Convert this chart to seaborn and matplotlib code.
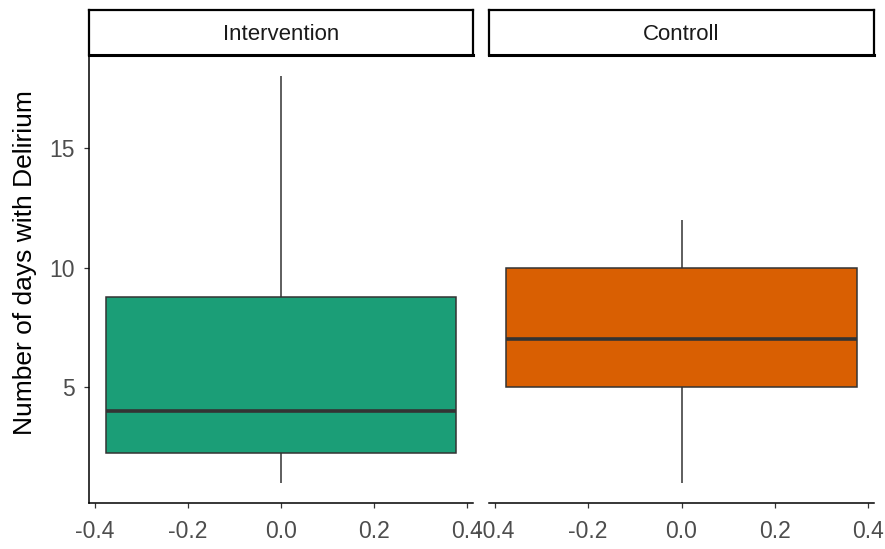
import matplotlib
matplotlib.use("Agg")
import matplotlib.pyplot as plt
import seaborn as sns
import pandas as pd
import numpy as np

# Data: five-number summaries, used as raw values
groups = ["Intervention", "Controll"]
intervention_days = [1, 2.25, 4, 8.75, 18]
controll_days = [1, 5, 7, 10, 12]
colors = ["#1B9E77", "#D95F02"]
x_ticks = [-0.4, -0.2, 0.0, 0.2, 0.4]
y_ticks = [5, 10, 15]

df = pd.DataFrame({
    "group": ["Intervention"] * len(intervention_days) + ["Controll"] * len(controll_days),
    "days": intervention_days + controll_days,
})

sns.set_style("white")
plt.rcParams["font.family"] = ["Liberation Sans", "DejaVu Sans"]

W, H = 885, 549
fig = plt.figure(figsize=(W / 100, H / 100), dpi=100)

panels = [(89, 473), (489, 874)]
ax_top, ax_bot = 56, 503
strip_top, strip_bot = 10, 55

for i, (g, (l, r)) in enumerate(zip(groups, panels)):
    ax = fig.add_axes([l / W, 1 - ax_bot / H, (r - l) / W, (ax_bot - ax_top) / H])
    sub = df[df["group"] == g]
    sns.boxplot(data=sub, y="days", ax=ax, color=colors[i], saturation=1,
                width=0.75, whis=1.5, showcaps=False, linecolor="#333333",
                linewidth=1.1, fliersize=0,
                medianprops=dict(linewidth=2.6, color="#333333"),
                boxprops=dict(edgecolor="#333333"))
    ax.set_xlim(-0.4118, 0.4118)
    ax.set_ylim(0.15, 18.85)
    ax.set_xticks(x_ticks)
    ax.set_xticklabels([f"{t:.1f}" for t in x_ticks])
    ax.set_yticks(y_ticks)
    ax.set_xlabel("")
    ax.set_ylabel("")
    for s in ["top", "right"]:
        ax.spines[s].set_visible(False)
    for s in ["left", "bottom"]:
        ax.spines[s].set_color("black")
        ax.spines[s].set_linewidth(1.1)
    ax.tick_params(axis="both", which="major", length=3.3, width=0.9,
                   color="#333333", labelcolor="#4D4D4D", labelsize=16.5,
                   bottom=True, left=True)
    ax.tick_params(axis="x", pad=9)
    ax.tick_params(axis="y", pad=7)
    if i == 1:
        ax.tick_params(axis="y", left=False, labelleft=False)
        ax.spines["left"].set_visible(False)

    # strip
    sax = fig.add_axes([l / W, 1 - strip_bot / H, (r - l) / W, (strip_bot - strip_top) / H])
    sax.set_xticks([])
    sax.set_yticks([])
    sax.set_facecolor("white")
    for name, s in sax.spines.items():
        s.set_visible(True)
        s.set_color("black")
        s.set_linewidth(2.2 if name == "bottom" else 1.6)
    sax.text(0.5, 0.45, g, ha="center", va="center", fontsize=16, color="#1A1A1A",
             transform=sax.transAxes)

fig.text(25 / W, 1 - 263 / H, "Number of days with Delirium", rotation=90,
         ha="center", va="center", fontsize=19, color="black")

fig.savefig("out.png", dpi=100)
